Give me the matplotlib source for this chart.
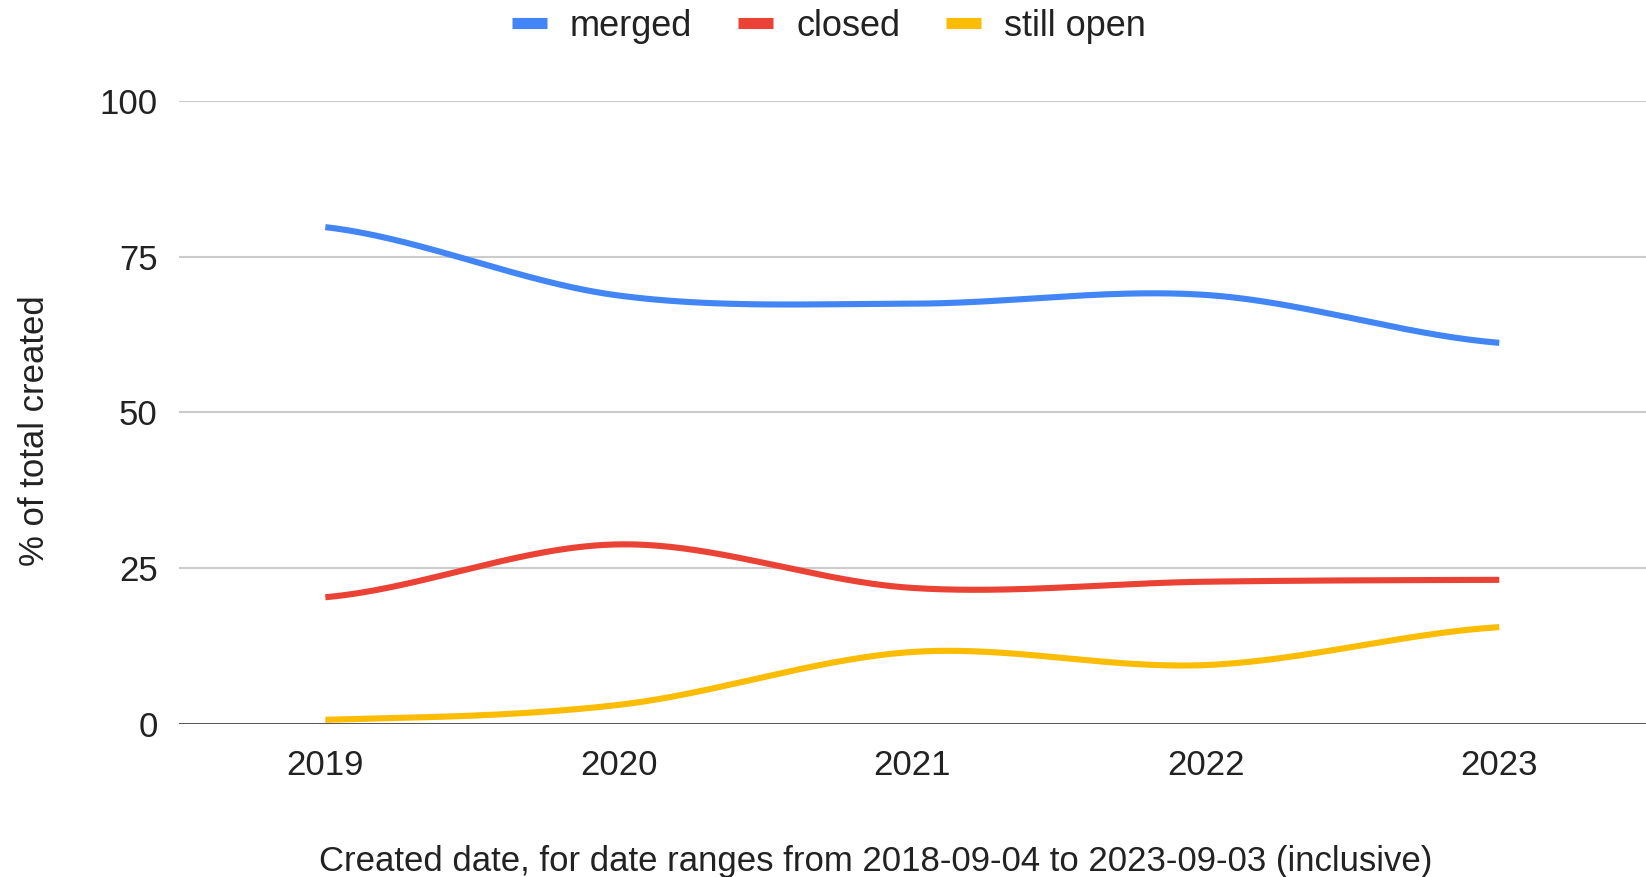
import numpy as np
import matplotlib.pyplot as plt
from matplotlib.lines import Line2D

plt.rcParams['font.family'] = ['Liberation Sans', 'DejaVu Sans']

years = [2019, 2020, 2021, 2022, 2023]
merged = [79.8, 68.8, 67.5, 68.9, 61.2]
closed = [20.3, 28.8, 21.8, 22.8, 23.1]
still_open = [0.6, 3.0, 11.5, 9.4, 15.5]

series_names = ['merged', 'closed', 'still open']
series_colors = ['#4285F4', '#EA4335', '#FBBC04']


def smooth(x, y, steps=60):
    # Catmull-Rom curve through every point, ends padded by reflection
    x = np.asarray(x, float)
    y = np.asarray(y, float)
    px = np.concatenate([[2 * x[0] - x[1]], x, [2 * x[-1] - x[-2]]])
    py = np.concatenate([[y[0]], y, [y[-1]]])
    xs, ys = [], []
    t = np.linspace(0, 1, steps)
    for i in range(1, len(px) - 2):
        for p, out in ((px, xs), (py, ys)):
            p0, p1, p2, p3 = p[i - 1], p[i], p[i + 1], p[i + 2]
            out.append(0.5 * (2 * p1 + (-p0 + p2) * t
                              + (2 * p0 - 5 * p1 + 4 * p2 - p3) * t ** 2
                              + (-p0 + 3 * p1 - 3 * p2 + p3) * t ** 3))
    return np.concatenate(xs), np.concatenate(ys)


fig = plt.figure(figsize=(16.46, 8.77), dpi=100)
ax = fig.add_axes([0.1085, 0.175, 0.8915, 0.7093])

for vals, name, color in zip([merged, closed, still_open], series_names, series_colors):
    sx, sy = smooth(years, vals)
    ax.plot(sx, sy, color=color, lw=4.4, solid_capstyle='butt', zorder=3)

ax.set_xlim(2018.5, 2023.5)
ax.set_ylim(0, 100)
ax.set_xticks(years)
ax.set_yticks([0, 25, 50, 75, 100])
ax.tick_params(length=0, labelsize=25, colors='#222222')
ax.tick_params(axis='y', pad=15)
ax.tick_params(axis='x', pad=18)
ax.grid(axis='y', color='#cccccc', lw=1.5)
ax.axhline(0, color='#333333', lw=1.8, zorder=2)
for s in ax.spines.values():
    s.set_visible(False)

ax.set_ylabel('% of total created', fontsize=25, color='#222222', labelpad=35)
ax.yaxis.label.set_y(0.471)
ax.set_xlabel('Created date, for date ranges from 2018-09-04 to 2023-09-03 (inclusive)',
              fontsize=25, color='#222222', labelpad=46)
ax.xaxis.label.set_x(0.475)

handles = [Line2D([], [], color=c, lw=8, solid_capstyle='butt') for c in series_colors]
fig.legend(handles, series_names, loc='center', bbox_to_anchor=(0.5036, 0.970), ncol=3,
           frameon=False, fontsize=26, handlelength=0.97, handletextpad=0.64,
           columnspacing=1.27, labelcolor='#222222')

fig.savefig('out.png', dpi=100, facecolor='white')
